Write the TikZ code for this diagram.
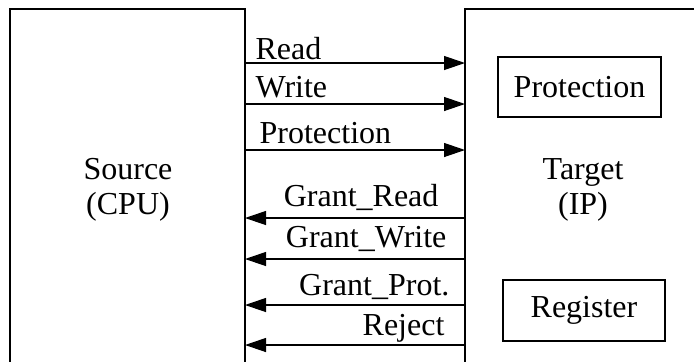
\documentclass[tikz,border=0pt]{standalone}
\usepackage{fontspec}
\setmainfont{Liberation Serif}
\usetikzlibrary{arrows.meta}

\tikzset{
  block/.style={draw, line width=0.6pt, inner sep=0pt, outer sep=0pt},
  sig/.style={line width=0.6pt, -{Triangle[length=10.5pt,width=7pt]}},
  lbl/.style={inner sep=0pt, font=\fontsize{16}{17.5}\selectfont},
}

\begin{document}
\begin{tikzpicture}[x=0.5pt,y=-0.5pt]
\useasboundingbox (0,0) rectangle (694,361);
\clip (0,0) rectangle (694,361);
% the two units run out of the frame at the bottom
\node[block, anchor=north west, minimum width=117.5pt, minimum height=200pt] (src) at (10,9) {};
\node[block, anchor=north west, minimum width=150pt, minimum height=200pt] (tgt) at (465,9) {};
\node[lbl, align=center] (srcname) at (128,190) {Source\\(CPU)};
\node[lbl, align=center] (tgtname) at (583,190) {Target\\(IP)};
\node[block, lbl, minimum width=81.5pt, minimum height=30pt] (prot) at (579.5,87) {Protection};
\node[block, lbl, minimum width=81pt, minimum height=30.5pt] (reg) at (584,310.5) {Register};
% requests
\foreach \d/\txt/\dx/\dy in {27/Read/5pt/1.7pt, 47.5/Write/5pt/3.5pt, 70.5/Protection/7pt/3.5pt}
  \draw[sig] ([yshift=-\d pt]src.north east) -- ([yshift=-\d pt]tgt.north west)
    node[lbl, pos=0, anchor=base west, xshift=\dx, yshift=\dy] {\txt};
% answers
\foreach \d/\txt/\dx/\dy in {104.5/Grant\_Read/13pt/5.8pt, 125/Grant\_Write/9pt/6pt, 148/Grant\_Prot./7.5pt/5pt, 168/Reject/10pt/5pt}
  \draw[sig] ([yshift=-\d pt]tgt.north west) -- ([yshift=-\d pt]src.north east)
    node[lbl, pos=0, anchor=base east, xshift=-\dx, yshift=\dy] {\txt};
\end{tikzpicture}
\end{document}
